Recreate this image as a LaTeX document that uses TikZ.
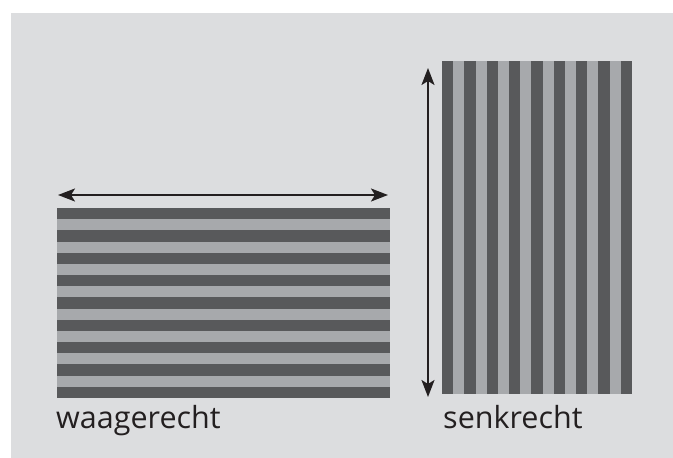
\documentclass[tikz,border=0pt]{standalone}
\usepackage{fontspec}
\setmainfont{Open Sans}
\usetikzlibrary{arrows.meta}
\definecolor{bg}{HTML}{DCDDDF}
\definecolor{darkstripe}{HTML}{58595B}
\definecolor{lightstripe}{HTML}{A7A9AC}
\definecolor{ink}{HTML}{231F20}
\tikzset{
  dimarrow/.style={draw=ink, line width=2pt, {Stealth[length=17pt,width=13pt,inset=4pt]}-{Stealth[length=17pt,width=13pt,inset=4pt]}},
  label/.style={inner sep=0pt, anchor=base west, text=ink, font=\fontsize{30.5}{36}\selectfont},
}
\begin{document}
\begin{tikzpicture}[x=1pt,y=-1pt]
\useasboundingbox (0,0) rectangle (673,458);
\fill[white] (0,0) rectangle (673,458);
\fill[bg] (11,13) rectangle (673,458);
% horizontal stripes
\fill[lightstripe] (57,208) rectangle (390,398);
\foreach \i in {0,...,8} {
  \fill[darkstripe] (57,{208+2*\i*190/17}) rectangle (390,{208+(2*\i+1)*190/17});
}
% vertical stripes
\fill[lightstripe] (442,61) rectangle (632,394);
\foreach \i in {0,...,8} {
  \fill[darkstripe] ({442+2*\i*190/17},61) rectangle ({442+(2*\i+1)*190/17},394);
}
\coordinate (hl) at (58,195);
\coordinate (hr) at (388,195);
\coordinate (vt) at (428,68);
\coordinate (vb) at (428,397);
\draw[dimarrow] (hl) -- (hr);
\draw[dimarrow] (vt) -- (vb);
\node[label] (w) at (56,428) {waagerecht};
\node[label] (s) at (443,428) {senkrecht};
\end{tikzpicture}
\end{document}
